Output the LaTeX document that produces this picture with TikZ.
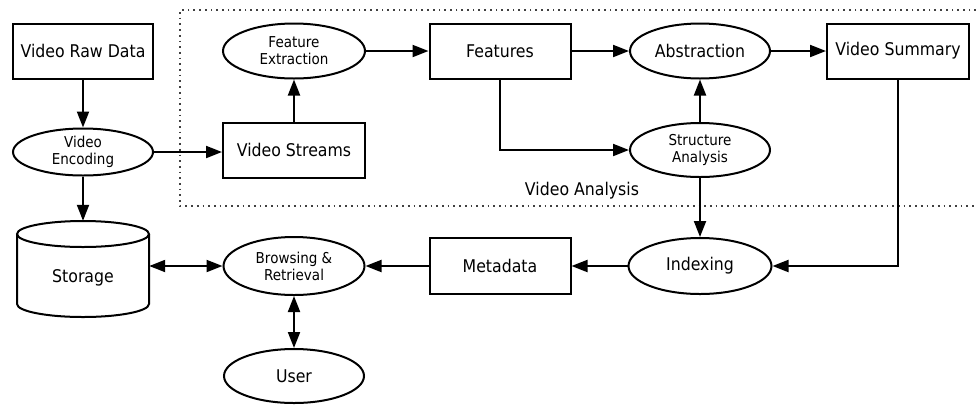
\documentclass[tikz,border=0pt]{standalone}
\usepackage{fontspec}
\setmainfont{DejaVu Sans}[FakeStretch=0.9]
\usetikzlibrary{arrows.meta,shapes.geometric}
\begin{document}
\begin{tikzpicture}[x=1pt,y=-1pt,
  every node/.style={font=\fontsize{17.5}{20}\selectfont, align=center, inner sep=0pt},
  box/.style={draw, line width=2pt, minimum width=140pt, minimum height=55pt},
  ell/.style={draw, ellipse, line width=2pt, minimum width=140pt, minimum height=55pt},
  small/.style={font=\fontsize{15}{17}\selectfont},
  tip/.tip={Triangle[length=16pt,width=12pt]},
  conn/.style={line width=2pt, -tip},
  bconn/.style={line width=2pt, tip-tip},
  dotbox/.style={line width=1.4pt, black!75, dash pattern=on 1.7pt off 4pt},
]
\useasboundingbox (0,0) rectangle (976,405);

% Video analysis region
\draw[dotbox] (976,10) -- (180,10) -- (180,206) -- (976,206);
\node (va) at (582,191) {Video Analysis};

% nodes
\node[box] (raw) at (83,51) {Video Raw Data};
\node[ell, small, minimum height=47pt] (enc) at (83,152) {Video\\Encoding};
\node[minimum width=132pt, minimum height=96pt] (stor) at (83,269) {};
\draw[line width=2pt] (83,234) ellipse [x radius=66, y radius=13];
\draw[line width=2pt] (17,234) -- (17,304) arc [start angle=180, end angle=0, x radius=66, y radius=13] -- (149,234);
\node (stortxt) at (83,278) {Storage};

\node[box, minimum width=142pt] (streams) at (294,150) {Video Streams};
\node[ell, small, minimum width=142pt] (fext) at (294,51) {Feature\\Extraction};
\node[box, minimum width=141pt] (feat) at (500,51) {Features};
\node[ell] (abst) at (700,51) {Abstraction};
\node[box, minimum width=142pt] (summ) at (898,51) {Video Summary};
\node[ell, small, minimum height=54pt] (struct) at (700,150) {Structure\\Analysis};

\node[ell, minimum width=143pt, minimum height=56pt] (idx) at (700,266) {Indexing};
\node[box, minimum width=141pt, minimum height=56pt] (meta) at (500,266) {Metadata};
\node[ell, small, minimum width=141pt, minimum height=58pt] (browse) at (294,266) {Browsing \&\\Retrieval};
\node[ell, minimum height=54pt] (user) at (294,376) {User};

% connectors
\draw[conn] (raw) -- (enc);
\draw[conn] (enc) -- (stor);
\draw[conn] (enc.east) -- (streams.west |- enc.east);
\draw[conn] (streams) -- (fext);
\draw[conn] (fext) -- (feat);
\draw[conn] (feat) -- (abst);
\draw[conn] (abst) -- (summ);
\draw[conn] (feat.south) |- (struct.west);
\draw[conn] (struct) -- (abst);
\draw[conn] (struct) -- (idx);
\draw[conn] (summ.south) |- (idx.east);
\draw[conn] (idx) -- (meta);
\draw[conn] (meta) -- (browse);
\draw[bconn] (stor.east |- browse) -- (browse);
\draw[bconn] (browse) -- (user);
\end{tikzpicture}
\end{document}
